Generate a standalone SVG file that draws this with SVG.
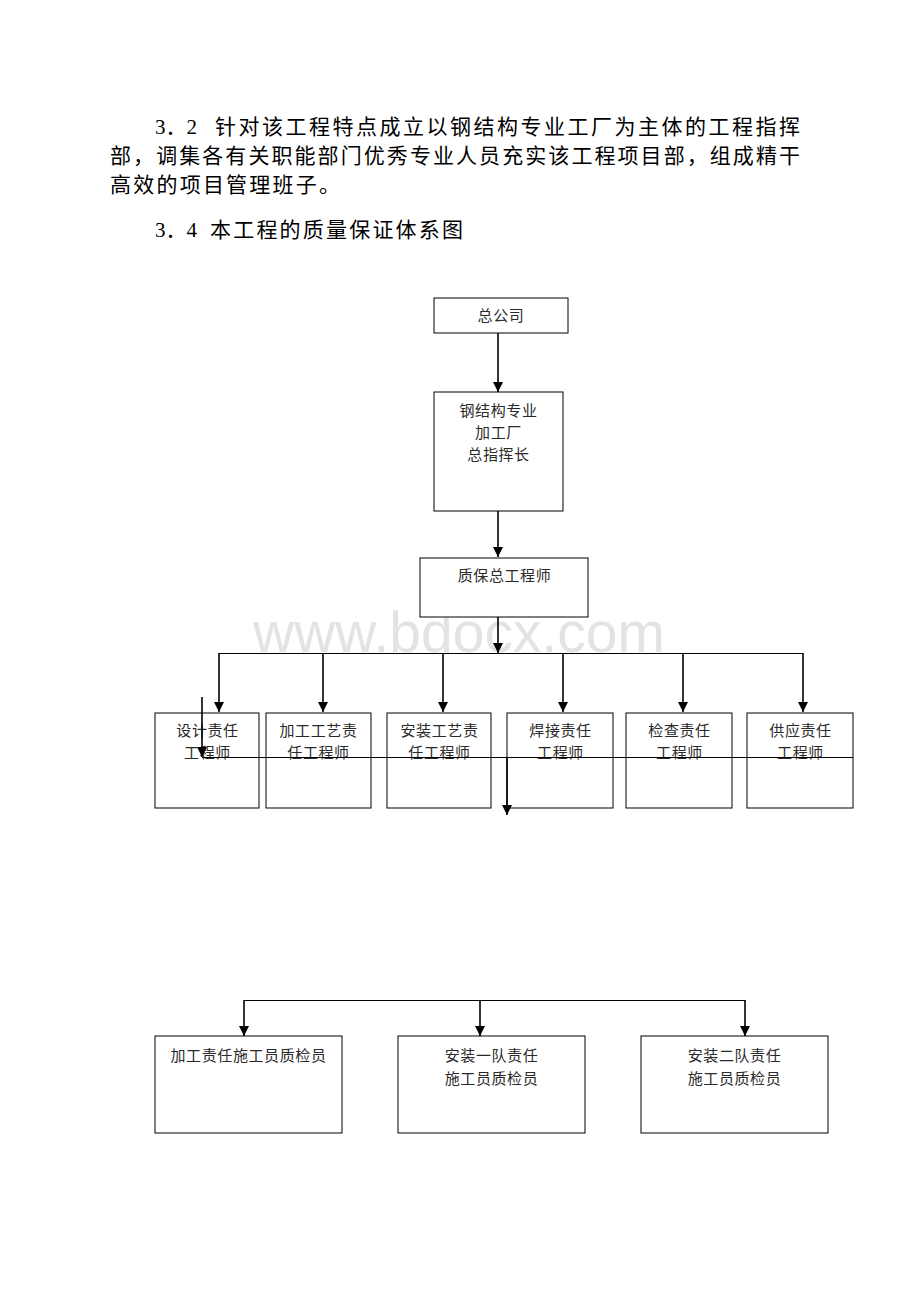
<svg xmlns="http://www.w3.org/2000/svg" width="920" height="1302" viewBox="0 0 920 1302">
<style>
.para{font-family:"Liberation Serif","Noto Sans CJK SC",serif;font-size:21px;fill:#000}
.box{fill:#fff;stroke:#000;stroke-width:1}
.lbl{font-family:"Noto Sans CJK SC","Liberation Sans",sans-serif;font-size:15px;fill:#2a2a2a;text-anchor:middle;letter-spacing:0.6px}
.v{stroke:#000;stroke-width:1.6;fill:none}
.h{stroke:#000;stroke-width:1;fill:none}
.wm{font-family:"Liberation Sans",Arial,sans-serif;font-size:57px;fill:#e3e3e3}
</style>
<defs>
<marker id="ah" viewBox="0 0 10 10" refX="10" refY="5" markerWidth="10" markerHeight="10" markerUnits="userSpaceOnUse" orient="auto">
<path d="M0,0 L10,5 L0,10 z" fill="#000"/>
</marker>
</defs>
<rect width="920" height="1302" fill="#fff"/>

<g id="text-body">
<text class="para" x="155" y="134">3．2</text>
<text class="para" x="215" y="134" textLength="585" lengthAdjust="spacing">针对该工程特点成立以钢结构专业工厂为主体的工程指挥</text>
<text class="para" x="110" y="163" textLength="690" lengthAdjust="spacing">部，调集各有关职能部门优秀专业人员充实该工程项目部，组成精干</text>
<text class="para" x="110" y="192" textLength="230" lengthAdjust="spacing">高效的项目管理班子。</text>
<text class="para" x="155" y="237">3．4</text>
<text class="para" x="210" y="237" textLength="253" lengthAdjust="spacing">本工程的质量保证体系图</text>
</g>

<text class="wm" x="253" y="652" textLength="412" lengthAdjust="spacingAndGlyphs">www.bdocx.com</text>

<g id="n-zonggongsi">
<rect class="box" x="434" y="298" width="134" height="35"/>
<text class="lbl" x="501" y="321">总公司</text>
</g>
<g id="n-zongzhihuizhang">
<rect class="box" x="434" y="392" width="129" height="119"/>
<text class="lbl" x="498.5" y="416">钢结构专业</text>
<text class="lbl" x="498.5" y="438">加工厂</text>
<text class="lbl" x="498.5" y="460">总指挥长</text>
</g>
<g id="n-zhibao">
<rect class="box" x="420" y="558" width="168" height="59"/>
<text class="lbl" x="504.5" y="581">质保总工程师</text>
</g>

<g id="n-sheji">
<rect class="box" x="155" y="713" width="104" height="95"/>
<text class="lbl" x="207.5" y="736">设计责任</text>
<text class="lbl" x="207.5" y="758">工程师</text>
</g>
<g id="n-jiagong">
<rect class="box" x="266" y="713" width="105" height="95"/>
<text class="lbl" x="318.5" y="736">加工工艺责</text>
<text class="lbl" x="318.5" y="758">任工程师</text>
</g>
<g id="n-anzhuang">
<rect class="box" x="387" y="713" width="104" height="95"/>
<text class="lbl" x="439.5" y="736">安装工艺责</text>
<text class="lbl" x="439.5" y="758">任工程师</text>
</g>
<g id="n-hanjie">
<rect class="box" x="507" y="713" width="106" height="95"/>
<text class="lbl" x="560.5" y="736">焊接责任</text>
<text class="lbl" x="560.5" y="758">工程师</text>
</g>
<g id="n-jiancha">
<rect class="box" x="626" y="713" width="106" height="95"/>
<text class="lbl" x="679.5" y="736">检查责任</text>
<text class="lbl" x="679.5" y="758">工程师</text>
</g>
<g id="n-gongying">
<rect class="box" x="747" y="713" width="106" height="95"/>
<text class="lbl" x="800.5" y="736">供应责任</text>
<text class="lbl" x="800.5" y="758">工程师</text>
</g>

<g id="n-jiagongjianyan">
<rect class="box" x="155" y="1036" width="187" height="97"/>
<text class="lbl" x="248.5" y="1061">加工责任施工员质检员</text>
</g>
<g id="n-anzhuang1">
<rect class="box" x="398" y="1036" width="187" height="97"/>
<text class="lbl" x="491.5" y="1061">安装一队责任</text>
<text class="lbl" x="491.5" y="1084">施工员质检员</text>
</g>
<g id="n-anzhuang2">
<rect class="box" x="641" y="1036" width="187" height="97"/>
<text class="lbl" x="734.5" y="1061">安装二队责任</text>
<text class="lbl" x="734.5" y="1084">施工员质检员</text>
</g>

<g id="connectors">
<line class="v" x1="498" y1="333" x2="498" y2="392" marker-end="url(#ah)"/>
<line class="v" x1="498" y1="511" x2="498" y2="557" marker-end="url(#ah)"/>
<line class="v" x1="498" y1="617" x2="498" y2="653" marker-end="url(#ah)"/>
<line class="h" x1="219" y1="653.5" x2="803" y2="653.5"/>
<line class="v" x1="219" y1="653" x2="219" y2="712" marker-end="url(#ah)"/>
<line class="v" x1="323" y1="653" x2="323" y2="712" marker-end="url(#ah)"/>
<line class="v" x1="443" y1="653" x2="443" y2="712" marker-end="url(#ah)"/>
<line class="v" x1="563" y1="653" x2="563" y2="712" marker-end="url(#ah)"/>
<line class="v" x1="683" y1="653" x2="683" y2="712" marker-end="url(#ah)"/>
<line class="v" x1="803" y1="653" x2="803" y2="712" marker-end="url(#ah)"/>
<line class="v" x1="202" y1="697" x2="202" y2="757" marker-end="url(#ah)"/>
<line class="h" x1="202" y1="757.5" x2="853" y2="757.5"/>
<line class="v" x1="507" y1="757" x2="507" y2="815" marker-end="url(#ah)"/>
<line class="h" x1="244" y1="1000.5" x2="745" y2="1000.5"/>
<line class="v" x1="244" y1="1000" x2="244" y2="1036" marker-end="url(#ah)"/>
<line class="v" x1="480" y1="1000" x2="480" y2="1036" marker-end="url(#ah)"/>
<line class="v" x1="745" y1="1000" x2="745" y2="1036" marker-end="url(#ah)"/>
</g>
</svg>
